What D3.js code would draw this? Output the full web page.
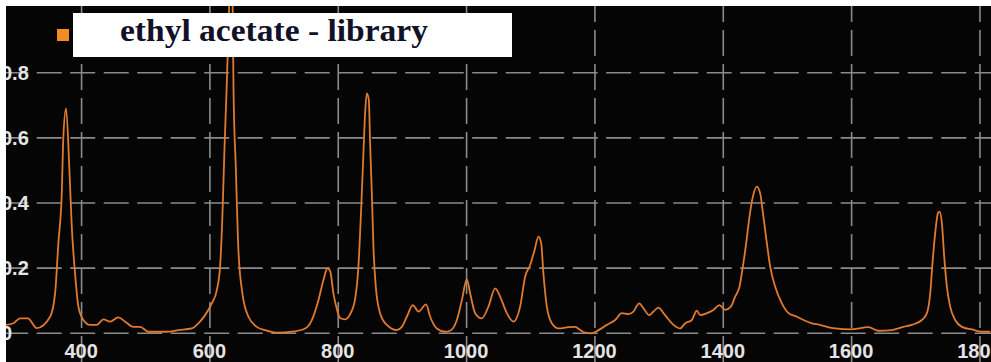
<!DOCTYPE html>
<html>
<head>
<meta charset="utf-8">
<script src="https://cdn.jsdelivr.net/npm/d3@7"></script>
<style>
  body { margin: 0; background: #fff; }
  svg { display: block; }
  .tick-label { fill: #e4e4e4; font-family: "Liberation Sans Narrow", "Arial Narrow", "Liberation Sans", sans-serif; font-weight: bold; font-size: 20px; }
</style>
</head>
<body>
<div id="chart"></div>
<script>
// spectrum: Raman shift (cm-1) and intensity
const wavenumber = [
  283, 294.5, 305, 317, 331, 351.7, 359.5, 364.6, 369.9, 372.4, 376.6, 381.8, 385.5, 390.6, 395.8,
  403.6, 414, 424.5, 434.8, 445.2, 458.1, 468.6, 481.5, 492, 504.9, 533.6, 551.7, 572.5, 582.8,
  593.3, 603.7, 611.5, 616.6, 620.2, 623.4, 627.1, 630.7, 633.5, 636.2, 637.6, 641.1, 645.2, 651.4,
  660.8, 673.8, 686.8, 707.5, 728.4, 749.1, 759.6, 769.9, 777.7, 783.9, 788.1, 793.2, 799, 803.7,
  811.5, 819.3, 827, 832.2, 836.4, 840, 842.6, 845.3, 848.4, 850.4, 853.1, 855.6, 859.3, 866,
  876.5, 892, 899.8, 907.6, 917, 925.7, 937.7, 944, 954.4, 967.3, 975.1, 985.6, 993.4, 1001.2,
  1006.3, 1014.1, 1024.5, 1034.8, 1045.3, 1053, 1063.5, 1073.8, 1084.2, 1092, 1099.8, 1106.5,
  1112.8, 1117, 1120.5, 1125.8, 1133.6, 1143.9, 1159.5, 1170, 1174.6, 1185.5, 1196, 1206.3,
  1219.4, 1232.3, 1242.7, 1253, 1260.8, 1269.7, 1276.4, 1285.3, 1292, 1299.8, 1307.6, 1312.8,
  1323.2, 1333.6, 1341.4, 1351.8, 1359.6, 1364.8, 1375.2, 1385.5, 1394.9, 1403.7, 1412.6, 1419.3,
  1426, 1431.3, 1436.5, 1441.6, 1446.9, 1453.1, 1458.3, 1463.4, 1468.7, 1473.9, 1481.7, 1492.1,
  1502.4, 1515.5, 1525.8, 1538.9, 1551.8, 1562.2, 1575.2, 1598.6, 1627.1, 1642.7, 1663.6, 1681.6,
  1694.7, 1710.3, 1718.1, 1723.3, 1726.8, 1731, 1735.3, 1737.7, 1741.5, 1745.1, 1749.3, 1754.4,
  1762.2, 1772.6, 1788.2, 1803.8, 1816.8
];
const intensity = [
  0.024, 0.029, 0.044, 0.044, 0.014, 0.049, 0.121, 0.275, 0.428, 0.602, 0.689, 0.50, 0.326, 0.182, 0.08,
  0.039, 0.024, 0.024, 0.041, 0.034, 0.047, 0.034, 0.018, 0.018, 0.003, 0.003, 0.008, 0.013, 0.029,
  0.054, 0.09, 0.131, 0.203, 0.356, 0.561, 0.766, 1.0, 1.15, 1.0, 0.74, 0.51, 0.254, 0.121,
  0.049, 0.018, 0.008, 0.0, 0.003, 0.013, 0.039, 0.1, 0.162, 0.198, 0.19, 0.121, 0.07, 0.045,
  0.041, 0.057, 0.103, 0.203, 0.377, 0.551, 0.674, 0.735, 0.715, 0.582, 0.428, 0.264, 0.141, 0.06,
  0.024, 0.008, 0.018, 0.049, 0.085, 0.065, 0.087, 0.049, 0.013, 0.003, 0.006, 0.039, 0.1, 0.164,
  0.121, 0.06, 0.044, 0.08, 0.136, 0.111, 0.06, 0.034, 0.08, 0.172, 0.208, 0.252,
  0.295, 0.275, 0.182, 0.08, 0.029, 0.013, 0.017, 0.018, 0.013, 0.0, -0.002, 0.008,
  0.024, 0.039, 0.06, 0.057, 0.065, 0.09, 0.075, 0.054, 0.065, 0.077, 0.06, 0.047,
  0.024, 0.013, 0.029, 0.039, 0.068, 0.054, 0.06, 0.07, 0.085, 0.07, 0.08, 0.111,
  0.141, 0.203, 0.275, 0.356, 0.418, 0.449, 0.428, 0.356, 0.275, 0.203, 0.141, 0.09,
  0.06, 0.049, 0.039, 0.029, 0.024, 0.018, 0.013, 0.01, 0.017, 0.006, 0.008, 0.018,
  0.024, 0.039, 0.06, 0.121, 0.213, 0.305, 0.367, 0.372, 0.336, 0.233, 0.141, 0.08,
  0.039, 0.018, 0.01, 0.003, 0.003
];
const xTicks = [400, 600, 800, 1000, 1200, 1400, 1600, 1800];
const yTicks = [0, 0.2, 0.4, 0.6, 0.8];
const yTickLabels = ["0", "0.2", "0.4", "0.6", "0.8"];
const seriesName = "ethyl acetate - library";

const width = 991, height = 362;
const plot = {left: 6, top: 6, right: 991, bottom: 362};

const svg = d3.select("#chart")
    .append("svg")
    .attr("width", width)
    .attr("height", height);

let x = d3.scaleLinear()
    .domain([283, 1818])
    .range([plot.left, plot.right]);

let y = d3.scaleLinear()
    .domain([-0.09, 1.0037])
    .range([plot.bottom, plot.top]);

svg.append("rect")
    .attr("width", width)
    .attr("height", height)
    .attr("fill", "#fff");

svg.append("clipPath")
    .attr("id", "plotclip")
    .append("rect")
    .attr("x", plot.left)
    .attr("y", plot.top)
    .attr("width", plot.right - plot.left)
    .attr("height", plot.bottom - plot.top);

let g = svg.append("g").attr("clip-path", "url(#plotclip)");

g.append("rect")
    .attr("x", plot.left)
    .attr("y", plot.top)
    .attr("width", plot.right - plot.left)
    .attr("height", plot.bottom - plot.top)
    .attr("fill", "#050505");

// grid
g.append("g")
    .attr("transform", "translate(0," + plot.bottom + ")")
    .call(d3.axisBottom(x).tickValues(xTicks).tickSize(-(plot.bottom - plot.top)).tickFormat(""))
    .call(a => a.select(".domain").remove())
    .selectAll("line")
    .attr("stroke", "#8a8a8a")
    .attr("stroke-width", 1.6)
    .attr("stroke-dasharray", "26,8")
    .attr("stroke-dashoffset", 0);

g.append("g")
    .attr("transform", "translate(" + plot.left + ",0)")
    .call(d3.axisRight(y).tickValues(yTicks).tickSize(plot.right - plot.left).tickFormat(""))
    .call(a => a.select(".domain").remove())
    .selectAll("line")
    .attr("stroke", "#8a8a8a")
    .attr("stroke-width", 1.6)
    .attr("stroke-dasharray", "25,8.5")
    .attr("stroke-dashoffset", 2.8);

// spectrum
let pts = wavenumber.map((w, i) => [w, intensity[i]]);
let line = d3.line()
    .x(d => x(d[0]))
    .y(d => y(d[1]))
    .curve(d3.curveMonotoneX);

g.append("path")
    .datum(pts)
    .attr("d", line)
    .attr("fill", "none")
    .attr("stroke", "#e07a2e")
    .attr("stroke-width", 1.8)
    .attr("stroke-linejoin", "round");

// tick labels
g.selectAll(".xlab")
    .data(xTicks)
    .join("text")
    .attr("class", "tick-label xlab")
    .attr("x", d => x(d))
    .attr("y", 358)
    .attr("text-anchor", "middle")
    .text(d => d);

g.selectAll(".ylab")
    .data(yTicks)
    .join("text")
    .attr("class", "tick-label ylab")
    .attr("x", 1)
    .attr("y", d => y(d))
    .attr("dy", "0.36em")
    .attr("text-anchor", "start")
    .text((d, i) => yTickLabels[i]);

// legend
svg.append("rect")
    .attr("x", 57)
    .attr("y", 29)
    .attr("width", 12)
    .attr("height", 12)
    .attr("fill", "#f28a26");

svg.append("rect")
    .attr("x", 73)
    .attr("y", 13)
    .attr("width", 439)
    .attr("height", 44)
    .attr("fill", "#fff");

svg.append("text")
    .attr("x", 120)
    .attr("y", 41)
    .attr("textLength", 308)
    .attr("lengthAdjust", "spacingAndGlyphs")
    .style("font-family", "'Liberation Serif', 'Times New Roman', serif")
    .style("font-weight", "bold")
    .style("font-size", "31px")
    .style("fill", "#111128")
    .text(seriesName);
</script>
</body>
</html>
